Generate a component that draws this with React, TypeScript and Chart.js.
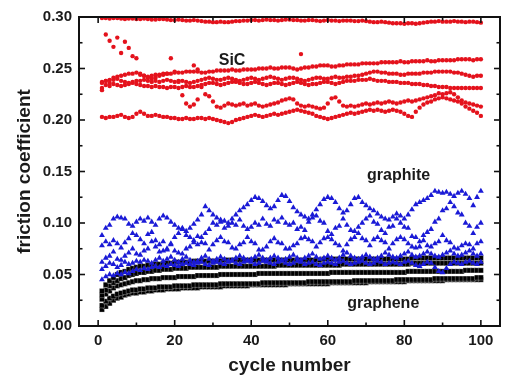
import React, { useEffect, useRef } from 'react';
import { Chart, registerables } from 'chart.js';
Chart.register(...registerables);

const CYCLES = [
  1, 2, 3, 4, 5, 6, 7, 8, 9, 10, 11, 12, 13, 14, 15, 16, 17, 18, 19, 20,
  21, 22, 23, 24, 25, 26, 27, 28, 29, 30, 31, 32, 33, 34, 35, 36, 37, 38, 39, 40,
  41, 42, 43, 44, 45, 46, 47, 48, 49, 50, 51, 52, 53, 54, 55, 56, 57, 58, 59, 60,
  61, 62, 63, 64, 65, 66, 67, 68, 69, 70, 71, 72, 73, 74, 75, 76, 77, 78, 79, 80,
  81, 82, 83, 84, 85, 86, 87, 88, 89, 90, 91, 92, 93, 94, 95, 96, 97, 98, 99, 100,
];

// SiC (red circles)
const SIC_A = [
  .299, .299, .2985, .299, .299, .2985, .298, .2985, .2985, .298,
  .298, .2985, .298, .2975, .2975, .298, .298, .2975, .297, .297,
  .2975, .297, .2965, .2965, .297, .2965, .296, .2955, .2955, .295,
  .295, .2955, .295, .295, .2955, .296, .296, .2965, .2965, .297,
  .297, .2965, .297, .2975, .297, .297, .2965, .297, .2975, .2975,
  .297, .297, .2965, .2965, .297, .297, .2965, .296, .2965, .297,
  .2965, .2965, .296, .2965, .2965, .2965, .296, .296, .2965, .296,
  .2955, .295, .295, .2955, .295, .2945, .294, .294, .294, .2935,
  .294, .294, .2935, .294, .2945, .295, .2955, .2955, .296, .2955,
  .2955, .2955, .296, .2955, .2955, .295, .2955, .2955, .295, .2945,
];
const SIC_B = [
  .236, .238, .239, .241, .242, .243, .244, .245, .245, .246,
  .245, .243, .242, .243, .244, .244, .245, .245, .245, .246,
  .246, .246, .247, .247, .247, .247, .246, .246, .247, .247,
  .248, .248, .248, .248, .249, .248, .248, .249, .249, .249,
  .249, .25, .25, .25, .251, .25, .25, .251, .251, .251,
  .25, .249, .25, .251, .251, .252, .252, .253, .253, .253,
  .252, .252, .253, .253, .254, .254, .254, .254, .255, .255,
  .255, .255, .255, .256, .256, .256, .256, .256, .257, .256,
  .256, .257, .257, .257, .257, .258, .257, .257, .258, .258,
  .258, .258, .258, .259, .259, .259, .259, .258, .259, .259,
];
const SIC_C = [
  .237, .238, .236, .239, .24, .238, .237, .236, .237, .238,
  .238, .239, .238, .237, .238, .237, .238, .239, .238, .237,
  .237, .238, .237, .236, .237, .238, .239, .24, .241, .24,
  .239, .239, .24, .241, .24, .239, .238, .239, .24, .241,
  .24, .239, .24, .241, .242, .241, .24, .239, .24, .241,
  .241, .24, .239, .238, .239, .24, .241, .241, .24, .24,
  .241, .242, .241, .241, .242, .242, .243, .243, .244, .245,
  .246, .247, .247, .246, .246, .245, .245, .245, .244, .244,
  .245, .245, .245, .245, .246, .246, .246, .247, .247, .247,
  .247, .247, .246, .246, .245, .244, .243, .242, .243, .243,
];
const SIC_D = [
  .231, .234, .233, .235, .234, .233, .234, .235, .236, .235,
  .234, .233, .233, .232, .233, .232, .232, .231, .232, .232,
  .231, .232, .233, .232, .232, .233, .234, .235, .236, .236,
  .235, .234, .235, .236, .237, .237, .236, .235, .235, .236,
  .237, .236, .235, .234, .235, .236, .236, .235, .234, .235,
  .236, .237, .236, .235, .234, .235, .235, .236, .237, .237,
  .236, .235, .236, .237, .238, .238, .238, .239, .239, .239,
  .24, .239, .238, .238, .238, .237, .237, .237, .236, .236,
  .236, .235, .235, .235, .234, .234, .233, .233, .232, .232,
  .232, .231, .231, .231, .231, .231, .231, .231, .231, .231,
];
const SIC_E = [
  .229, .283, .277, .271, .28, .265, .276, .27, .262, .26,
  .244, .243, .241, .24, .241, .243, .244, .245, .26, .247,
  .238, .224, .216, .213, .215, .22, .232, .225, .223, .218,
  .213, .212, .214, .216, .215, .214, .215, .216, .214, .215,
  .216, .214, .213, .214, .215, .216, .217, .219, .22, .221,
  .22, .216, .214, .213, .214, .213, .212, .211, .212, .216,
  .221, .222, .218, .214, .213, .214, .213, .214, .215, .216,
  .215, .216, .217, .216, .217, .218, .217, .216, .217, .218,
  .219, .218, .219, .22, .221, .222, .223, .224, .226, .225,
  .226, .227, .225, .222, .219, .217, .216, .215, .214, .213,
];
const SIC_F = [
  .203, .202, .203, .203, .204, .205, .203, .202, .203, .206,
  .208, .206, .204, .204, .205, .204, .203, .203, .202, .202,
  .201, .201, .202, .201, .201, .202, .202, .201, .202, .201,
  .2, .199, .198, .197, .198, .2, .201, .202, .203, .204,
  .205, .204, .203, .204, .205, .206, .205, .206, .207, .208,
  .209, .21, .209, .208, .207, .206, .204, .203, .202, .201,
  .202, .203, .204, .205, .206, .207, .206, .207, .208, .209,
  .21, .209, .21, .209, .208, .209, .21, .209, .208, .206,
  .204, .203, .208, .212, .215, .217, .218, .22, .221, .222,
  .221, .22, .219, .218, .216, .213, .211, .209, .207, .204,
];
const SIC_EXTRA_X = [25, 26, 53];
const SIC_EXTRA_Y = [.253, .249, .264];

// graphite (blue triangles)
const GRAPHITE_A = [
  .088, .095, .098, .104, .106, .105, .104, .099, .097, .101,
  .104, .102, .105, .101, .098, .104, .107, .105, .101, .098,
  .095, .094, .092, .095, .099, .103, .108, .116, .112, .108,
  .105, .103, .102, .1, .104, .108, .112, .115, .118, .122,
  .125, .124, .121, .117, .114, .116, .122, .127, .126, .121,
  .115, .111, .108, .106, .104, .108, .113, .118, .123, .125,
  .124, .12, .114, .11, .112, .118, .124, .125, .12, .117,
  .114, .112, .109, .106, .104, .103, .106, .109, .107, .104,
  .108, .113, .118, .12, .122, .124, .127, .131, .13, .129,
  .13, .128, .126, .129, .131, .128, .124, .117, .125, .131,
];
const GRAPHITE_B = [
  .078, .082, .079, .083, .08, .076, .081, .085, .09, .088,
  .084, .08, .089, .091, .083, .079, .082, .074, .08, .086,
  .09, .095, .088, .086, .081, .079, .086, .09, .094, .1,
  .098, .101, .095, .097, .1, .098, .103, .097, .094, .096,
  .1, .098, .104, .099, .097, .103, .101, .105, .1, .098,
  .1, .094, .096, .093, .101, .105, .107, .102, .1, .092,
  .089, .095, .097, .104, .098, .093, .092, .096, .1, .104,
  .107, .101, .099, .093, .09, .096, .097, .104, .1, .096,
  .095, .087, .086, .082, .088, .091, .094, .101, .104, .112,
  .114, .12, .116, .11, .108, .1, .097, .09, .096, .1,
];
const GRAPHITE_C = [
  .062, .066, .068, .072, .065, .064, .068, .071, .075, .07,
  .069, .073, .075, .082, .077, .072, .073, .075, .079, .073,
  .071, .07, .075, .077, .083, .087, .081, .08, .074, .079,
  .083, .086, .082, .081, .076, .075, .079, .081, .086, .082,
  .08, .074, .074, .077, .082, .085, .081, .08, .075, .075,
  .078, .08, .085, .086, .084, .082, .077, .081, .085, .086,
  .084, .08, .078, .073, .079, .084, .086, .09, .085, .083,
  .078, .084, .086, .083, .081, .075, .08, .084, .086, .084,
  .08, .077, .076, .077, .083, .078, .077, .08, .082, .088,
  .083, .081, .076, .075, .078, .08, .079, .075, .08, .082,
];
const GRAPHITE_D = [
  .055, .058, .061, .06, .057, .059, .062, .06, .061, .063,
  .062, .064, .063, .061, .064, .066, .063, .065, .067, .064,
  .062, .065, .067, .064, .062, .063, .066, .068, .065, .063,
  .065, .067, .065, .063, .064, .066, .068, .066, .064, .065,
  .067, .069, .066, .064, .066, .068, .066, .064, .065, .067,
  .069, .066, .064, .066, .068, .07, .067, .065, .066, .068,
  .066, .064, .066, .069, .071, .068, .066, .065, .067, .069,
  .067, .065, .066, .068, .071, .069, .067, .066, .068, .07,
  .072, .069, .067, .068, .07, .072, .07, .068, .067, .069,
  .071, .073, .07, .068, .069, .071, .073, .07, .068, .07,
];
const GRAPHITE_E = [
  .045, .048, .05, .049, .051, .05, .052, .051, .053, .055,
  .054, .056, .055, .057, .058, .057, .059, .058, .06, .059,
  .058, .06, .061, .06, .059, .061, .062, .06, .059, .061,
  .062, .061, .06, .062, .063, .061, .06, .062, .063, .062,
  .06, .061, .063, .062, .061, .06, .062, .063, .061, .06,
  .061, .063, .062, .06, .061, .062, .06, .059, .061, .062,
  .061, .06, .062, .063, .061, .06, .061, .062, .063, .061,
  .06, .061, .063, .062, .06, .061, .062, .061, .06, .062,
  .063, .061, .059, .058, .06, .062, .061, .057, .053, .052,
  .056, .06, .062, .061, .06, .062, .063, .061, .06, .062,
];

// graphene (black squares)
const GRAPHENE_A = [
  .016, .019, .022, .025, .027, .028, .03, .031, .032, .032,
  .033, .033, .034, .034, .035, .035, .035, .036, .036, .036,
  .036, .037, .037, .037, .037, .037, .038, .038, .038, .038,
  .038, .038, .039, .039, .039, .039, .039, .039, .039, .04,
  .04, .04, .04, .04, .04, .04, .04, .04, .04, .041,
  .041, .041, .041, .041, .041, .041, .041, .041, .041, .041,
  .042, .042, .042, .042, .042, .042, .042, .042, .042, .042,
  .043, .043, .043, .043, .043, .043, .043, .043, .043, .043,
  .044, .044, .044, .044, .044, .044, .044, .044, .044, .044,
  .045, .045, .045, .045, .045, .045, .045, .045, .045, .045,
];
const GRAPHENE_B = [
  .02, .024, .027, .029, .031, .032, .033, .034, .035, .035,
  .036, .036, .037, .037, .037, .038, .038, .038, .038, .039,
  .039, .039, .039, .039, .04, .04, .04, .04, .04, .04,
  .04, .041, .041, .041, .041, .041, .041, .041, .041, .041,
  .041, .041, .042, .042, .042, .042, .042, .042, .042, .042,
  .042, .042, .042, .042, .043, .043, .043, .043, .043, .043,
  .043, .043, .043, .043, .043, .043, .044, .044, .044, .044,
  .044, .044, .044, .044, .044, .044, .044, .045, .045, .045,
  .045, .045, .045, .045, .045, .045, .045, .046, .046, .046,
  .046, .046, .046, .046, .046, .046, .046, .046, .047, .047,
];
const GRAPHENE_C = [
  .026, .031, .034, .037, .039, .04, .041, .042, .043, .044,
  .044, .045, .045, .046, .046, .046, .047, .047, .047, .047,
  .048, .048, .048, .048, .048, .049, .049, .049, .049, .049,
  .049, .05, .05, .05, .05, .05, .05, .05, .05, .05,
  .05, .051, .051, .051, .051, .051, .051, .051, .051, .051,
  .051, .051, .051, .051, .051, .051, .051, .051, .051, .051,
  .052, .052, .052, .052, .052, .052, .052, .052, .052, .052,
  .052, .052, .052, .052, .052, .052, .052, .052, .052, .052,
  .053, .053, .053, .053, .053, .053, .053, .053, .053, .053,
  .053, .053, .053, .053, .053, .054, .054, .054, .054, .054,
];
const GRAPHENE_D = [
  .03, .035, .039, .042, .044, .046, .047, .049, .05, .051,
  .052, .052, .053, .053, .054, .054, .055, .055, .055, .056,
  .056, .056, .056, .057, .057, .057, .057, .057, .057, .057,
  .057, .058, .058, .058, .058, .058, .058, .058, .058, .058,
  .058, .058, .058, .058, .058, .058, .059, .059, .059, .059,
  .059, .059, .059, .059, .059, .059, .059, .059, .059, .059,
  .059, .059, .059, .06, .06, .06, .06, .06, .06, .06,
  .06, .06, .06, .06, .06, .06, .06, .06, .06, .06,
  .06, .061, .061, .061, .061, .061, .061, .061, .061, .061,
  .061, .061, .061, .061, .061, .061, .061, .061, .061, .061,
];
const GRAPHENE_E = [
  .034, .04, .044, .047, .05, .052, .053, .055, .056, .057,
  .058, .058, .059, .059, .06, .06, .061, .061, .061, .062,
  .062, .062, .062, .062, .063, .063, .063, .063, .063, .063,
  .063, .063, .064, .064, .064, .064, .064, .064, .064, .064,
  .064, .064, .064, .064, .064, .064, .064, .064, .064, .064,
  .064, .064, .064, .064, .064, .064, .064, .064, .065, .065,
  .065, .065, .065, .065, .065, .065, .065, .065, .065, .065,
  .065, .065, .065, .065, .065, .065, .065, .065, .065, .065,
  .065, .066, .066, .066, .066, .066, .066, .066, .066, .066,
  .066, .066, .066, .066, .066, .066, .066, .066, .066, .066,
];

const X_TICKS = [0, 20, 40, 60, 80, 100];
const X_MINOR = [10, 30, 50, 70, 90];
const Y_TICKS = [0, 0.05, 0.1, 0.15, 0.2, 0.25, 0.3];
const Y_MINOR = [0.025, 0.075, 0.125, 0.175, 0.225, 0.275];

const RED = '#e4121c';
const BLUE = '#1a1ad6';
const BLACK = '#000000';
const FONT = '"Liberation Sans", Arial, sans-serif';

const toPts = (ys: number[], xs: number[] = CYCLES) => xs.map((x, i) => ({ x, y: ys[i] }));

const sicSet = (ys: number[], xs?: number[]) => ({
  data: toPts(ys, xs),
  pointStyle: 'circle',
  pointRadius: 2.2,
  backgroundColor: RED,
  borderColor: RED,
  borderWidth: 0,
  showLine: false,
});
const graphiteSet = (ys: number[]) => ({
  data: toPts(ys),
  pointStyle: 'triangle',
  pointRadius: 3.4,
  backgroundColor: BLUE,
  borderColor: BLUE,
  borderWidth: 0,
  showLine: false,
});
const grapheneSet = (ys: number[]) => ({
  data: toPts(ys),
  pointStyle: 'rect',
  pointRadius: 3.6,
  backgroundColor: BLACK,
  borderColor: 'rgba(255,255,255,0.55)',
  borderWidth: 0.5,
  showLine: false,
});

const framePlugin = {
  id: 'frame',
  afterDatasetsDraw(chart: any) {
    const { ctx, chartArea, scales } = chart;
    const { left, right, top, bottom } = chartArea;
    const xs = scales.x;
    const ys = scales.y;
    ctx.save();
    ctx.strokeStyle = '#111';
    ctx.lineWidth = 1.6;
    const line = (x1: number, y1: number, x2: number, y2: number) => {
      ctx.beginPath();
      ctx.moveTo(x1, y1);
      ctx.lineTo(x2, y2);
      ctx.stroke();
    };
    X_TICKS.forEach((v) => {
      const p = xs.getPixelForValue(v);
      line(p, bottom, p, bottom - 6);
      line(p, top, p, top + 6);
    });
    X_MINOR.forEach((v) => {
      const p = xs.getPixelForValue(v);
      line(p, bottom, p, bottom - 3.5);
      line(p, top, p, top + 3.5);
    });
    Y_TICKS.forEach((v) => {
      const p = ys.getPixelForValue(v);
      line(left, p, left + 6, p);
      line(right, p, right - 6, p);
    });
    Y_MINOR.forEach((v) => {
      const p = ys.getPixelForValue(v);
      line(left, p, left + 3.5, p);
      line(right, p, right - 3.5, p);
    });
    ctx.lineWidth = 2;
    ctx.strokeRect(left, top, right - left, bottom - top);

    ctx.fillStyle = '#1a1a1a';
    ctx.font = `bold 16px ${FONT}`;
    ctx.textAlign = 'center';
    ctx.textBaseline = 'alphabetic';
    ctx.fillText('SiC', xs.getPixelForValue(35), ys.getPixelForValue(0.2534));
    ctx.fillText('graphite', xs.getPixelForValue(78.5), ys.getPixelForValue(0.1417));
    ctx.fillText('graphene', xs.getPixelForValue(74.5), ys.getPixelForValue(0.0175));
    ctx.restore();
  },
};

export default function App() {
  const ref = useRef<HTMLCanvasElement | null>(null);
  useEffect(() => {
    if (!ref.current) return;
    const chart = new Chart(ref.current, {
      type: 'scatter',
      data: {
        datasets: [
          sicSet(SIC_A), sicSet(SIC_B), sicSet(SIC_C), sicSet(SIC_D), sicSet(SIC_E), sicSet(SIC_F),
          sicSet(SIC_EXTRA_Y, SIC_EXTRA_X),
          graphiteSet(GRAPHITE_A), graphiteSet(GRAPHITE_B), graphiteSet(GRAPHITE_C),
          graphiteSet(GRAPHITE_D), graphiteSet(GRAPHITE_E),
          grapheneSet(GRAPHENE_E), grapheneSet(GRAPHENE_D), grapheneSet(GRAPHENE_C),
          grapheneSet(GRAPHENE_B), grapheneSet(GRAPHENE_A),
        ] as any,
      },
      options: {
        animation: false,
        responsive: false,
        devicePixelRatio: 1,
        layout: { padding: { left: 0, right: 10, top: 17, bottom: 0 } },
        plugins: { legend: { display: false }, tooltip: { enabled: false } },
        scales: {
          x: {
            type: 'linear',
            min: -5,
            max: 105,
            afterBuildTicks: (s: any) => { s.ticks = X_TICKS.map((value) => ({ value })); },
            afterFit: (s: any) => { s.height = 56; },
            grid: { display: false, drawTicks: false },
            border: { display: false },
            ticks: {
              color: '#1a1a1a',
              padding: 6,
              font: { family: FONT, weight: 'bold', size: 15 },
              callback: (v: any) => String(v),
            },
            title: {
              display: true,
              text: 'cycle number',
              color: '#1a1a1a',
              font: { family: FONT, weight: 'bold', size: 19 },
              padding: { top: 0, bottom: 5 },
            },
          },
          y: {
            type: 'linear',
            min: 0,
            max: 0.3,
            afterBuildTicks: (s: any) => { s.ticks = Y_TICKS.map((value) => ({ value })); },
            afterFit: (s: any) => { s.width = 79; },
            grid: { display: false, drawTicks: false },
            border: { display: false },
            ticks: {
              color: '#1a1a1a',
              padding: 7,
              font: { family: FONT, weight: 'bold', size: 15 },
              callback: (v: any) => Number(v).toFixed(2),
            },
            title: {
              display: true,
              text: 'friction coefficient',
              color: '#1a1a1a',
              font: { family: FONT, weight: 'bold', size: 19 },
              padding: { top: 13, bottom: 0 },
            },
          },
        },
      } as any,
      plugins: [framePlugin],
    });
    return () => chart.destroy();
  }, []);
  return (
    <div style={{ position: 'fixed', left: 0, top: 0, width: 510, height: 382, background: '#fff' }}>
      <canvas ref={ref} width={510} height={382} style={{ display: 'block', width: 510, height: 382 }} />
    </div>
  );
}
